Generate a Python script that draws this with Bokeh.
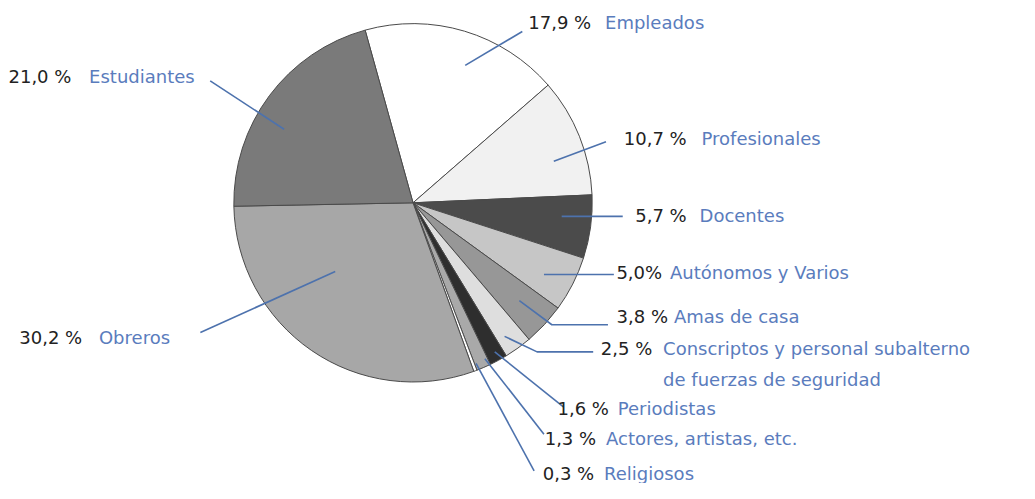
import math
from bokeh.plotting import figure
from bokeh.models import Range1d, ColumnDataSource
from bokeh.core.properties import value
from bokeh.embed import file_html
from bokeh.resources import INLINE

# ---- data (clockwise from the top) ----
categories = ["Empleados", "Profesionales", "Docentes", "Autónomos y Varios",
              "Amas de casa", "Conscriptos y personal subalterno\nde fuerzas de seguridad",
              "Periodistas", "Actores, artistas, etc.", "Religiosos",
              "Obreros", "Estudiantes"]
values = [17.9, 10.7, 5.7, 5.0, 3.8, 2.5, 1.6, 1.3, 0.3, 30.2, 21.0]
pct_labels = ["17,9 %", "10,7 %", "5,7 %", "5,0%", "3,8 %", "2,5 %",
              "1,6 %", "1,3 %", "0,3 %", "30,2 %", "21,0 %"]

# ---- styles ----
fills = ["#ffffff", "#f1f1f1", "#4b4b4b", "#c6c6c6", "#979797", "#dedede",
         "#2e2e2e", "#a9a9a9", "#ffffff", "#a7a7a7", "#7a7a7a"]

# ---- layout (reference-image pixel coordinates, 1035 x 499) ----
W, H = 1019, 483
REF_W, REF_H = 1035, 499
CX, CY, R = 419, 209, 182
START_DEG = 105.5
# (pct right edge, name left x, text y, leader polyline)
label_layout = [
    (600, 614, 23, [(472, 67), (530, 32)]),
    (697, 712, 143, [(562, 166), (615, 146)]),
    (697, 710, 222, [(570, 223), (632, 223)]),
    (672, 680, 281, [(552, 283), (623, 283)]),
    (678, 684, 326, [(527, 310), (560, 335), (617, 335)]),
    (662, 673, 360, [(512, 347), (545, 363), (602, 363)]),
    (618, 627, 421, [(502, 363), (572, 420)]),
    (605, 615, 452, [(492, 370), (552, 448)]),
    (603, 613, 489, [(483, 375), (542, 486)]),
    (83, 100, 348, [(203, 343), (340, 280)]),
    (72, 90, 79, [(213, 83), (288, 133)]),
]

def Y(y):
    return REF_H - y

p = figure(width=W, height=H, output_backend="svg", toolbar_location=None,
           x_range=Range1d(0, REF_W), y_range=Range1d(0, REF_H),
           min_border=0)
p.axis.visible = False
p.grid.visible = False
p.outline_line_color = None
p.background_fill_color = "white"
p.border_fill_color = "white"

# wedges from the data
starts, ends = [], []
a = START_DEG
for v in values:
    end = a
    a = a - v * 3.6
    starts.append(math.radians(a))
    ends.append(math.radians(end))

src = ColumnDataSource(dict(start=starts, end=ends, fill=fills))
p.wedge(x=CX, y=Y(CY), radius=R, start_angle="start", end_angle="end",
        direction="anticlock", fill_color="fill", line_color="#4a4a4a",
        line_width=1, source=src)

# leader lines
xs = [[pt[0] for pt in lay[3]] for lay in label_layout]
ys = [[Y(pt[1]) for pt in lay[3]] for lay in label_layout]
p.multi_line(xs=xs, ys=ys, line_color="#4d72ad", line_width=1.6)

font = value("DejaVu Sans")
# percentages
p.text(x=[lay[0] for lay in label_layout], y=[Y(lay[2]) for lay in label_layout],
       text=pct_labels, text_font=font, text_font_size="18px",
       text_color="#222222", text_align="right", text_baseline="middle")

# names
name_x, name_y, name_t = [], [], []
for cat, lay in zip(categories, label_layout):
    for i, line in enumerate(cat.split("\n")):
        name_x.append(lay[1])
        name_y.append(Y(lay[2] + i * 32))
        name_t.append(line)
p.text(x=name_x, y=name_y, text=name_t, text_font=font, text_font_size="18px",
       text_color="#5a7cbd", text_align="left", text_baseline="middle")

open("out.html", "w").write(file_html(p, INLINE))
